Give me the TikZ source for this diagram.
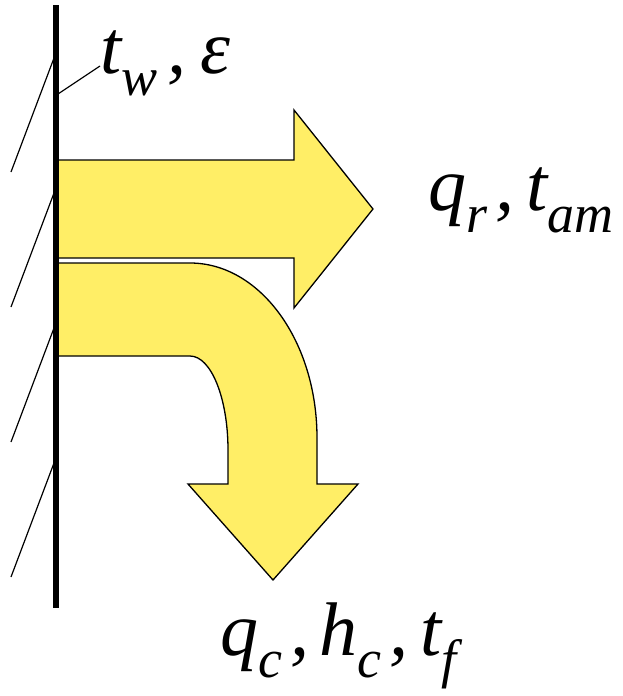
\documentclass[tikz,border=0pt]{standalone}
\usepackage{fontspec}
\setmainfont{Liberation Serif}
\definecolor{arrowyellow}{RGB}{255,238,102}
\tikzset{
  flow/.style={fill=arrowyellow, draw=black, line width=1.3pt, line join=miter},
  wall/.style={line width=5.5pt},
  hatch/.style={line width=1.2pt},
  lab/.style={anchor=base west, inner sep=0pt, font=\fontsize{76}{80}\selectfont\itshape}
}
\newcommand\mysub[1]{\raisebox{-22pt}{\fontsize{54}{56}\selectfont\itshape #1}}
\begin{document}
\begin{tikzpicture}[x=1pt,y=-1pt]
\useasboundingbox (0,0) rectangle (622,696);
% straight arrow
\draw[flow] (55,160) -- (294,160) -- (294,110) -- (373,209) -- (294,308) -- (294,258) -- (55,258) -- cycle;
% curved arrow
\draw[flow] (55,263) -- (190,263) .. controls (260,263) and (317,341) .. (317,438) -- (317,484) -- (358,484) -- (273,580) -- (188,484) -- (228,484) -- (228,450) .. controls (228,398) and (211,356) .. (190,356) -- (55,356) -- cycle;
% hatches
\foreach \y in {58,193,328,463} {
  \draw[hatch] (54,\y) -- (11,\y+114);
}
% wall
\draw[wall] (56,5) -- (56,608);
% labels
\node[lab] (tw) at (100,73) {t\mysub{w}\kern10pt,\kern14pt ε};
\node[lab] (qr) at (428,210) {q\mysub{r}\kern8pt,\kern12pt t\mysub{am}};
\node[lab] (qc) at (220,655) {q\mysub{c}\kern8pt,\kern10pt h\mysub{c}\kern8pt,\kern12pt t\mysub{f}};
\coordinate (lead) at (100,66);
\coordinate (wallpt) at (58,94);
\draw[hatch] (wallpt) -- (lead);
\end{tikzpicture}
\end{document}
